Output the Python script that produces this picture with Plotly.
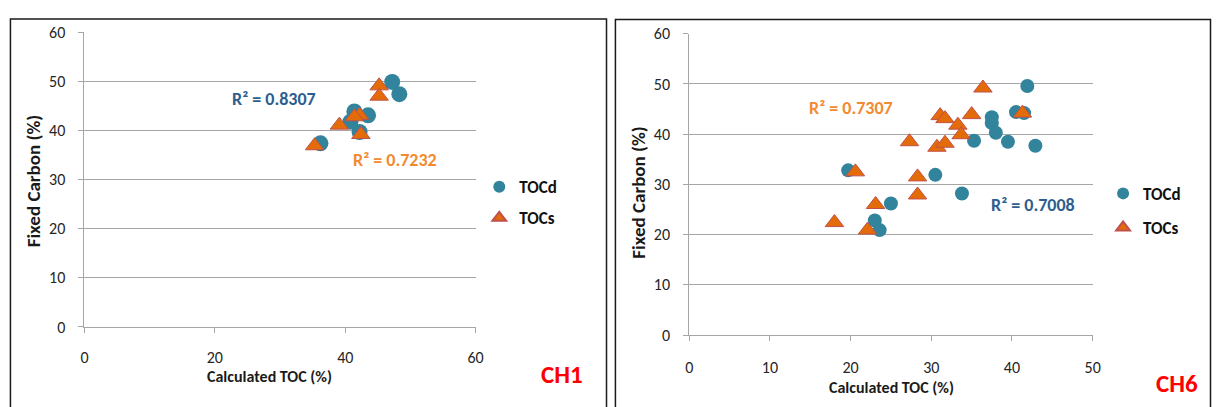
import plotly.graph_objects as go

W, H = 1219, 407

# ---------------- data ----------------
ch1_tocd_x = [47.2, 48.3, 41.4, 43.5, 40.8, 42.2, 36.2]
ch1_tocd_y = [49.9, 47.4, 43.9, 43.1, 41.8, 39.7, 37.4]
ch1_tocs_x = [45.2, 45.2, 42.2, 41.4, 39.1, 42.4, 35.3]
ch1_tocs_y = [49.1, 47.0, 43.1, 42.8, 41.1, 39.2, 36.9]

ch6_tocd_x = [41.9, 40.5, 41.5, 37.5, 37.5, 38.0, 35.3, 39.5, 42.9, 19.7, 30.5, 33.8, 25.0, 23.0, 23.6]
ch6_tocd_y = [49.6, 44.4, 44.2, 43.4, 42.2, 40.3, 38.7, 38.5, 37.7, 32.8, 31.9, 28.2, 26.2, 22.8, 20.9]
ch6_tocs_x = [36.4, 31.1, 31.7, 35.0, 33.3, 33.7, 41.3, 27.3, 30.7, 31.7, 20.6, 28.3, 28.3, 23.1, 18.0, 22.1]
ch6_tocs_y = [49.2, 43.7, 43.1, 43.9, 41.8, 39.9, 44.2, 38.5, 37.4, 38.2, 32.5, 31.5, 27.9, 26.0, 22.4, 20.9]

series_names = ["TOCd", "TOCs"]
r2_ch1 = ["R\u00b2 = 0.8307", "R\u00b2 = 0.7232"]
r2_ch6 = ["R\u00b2 = 0.7307", "R\u00b2 = 0.7008"]
x_title = "Calculated TOC (%)"
y_title = "Fixed Carbon (%)"
panel_labels = ["CH1", "CH6"]

# ---------------- style ----------------
FONT = "Carlito, Calibri, 'Liberation Sans Narrow', 'Open Sans', sans-serif"
TEAL = "#31849B"
ORANGE = "#E36C09"
EDGE = "#C0504D"
BLUE_TXT = "#2E5E8E"
ORANGE_TXT = "#F28A30"
GRID = "#A6A6A6"


def px(x):
    return x / W


def py(y):
    return 1 - y / H


fig = go.Figure()

# CH1
fig.add_trace(go.Scatter(x=ch1_tocd_x, y=ch1_tocd_y, mode="markers", name=series_names[0],
                         marker=dict(symbol="circle", size=16, color=TEAL, line=dict(width=0)),
                         xaxis="x", yaxis="y", legend="legend", legendgroup="a"))
fig.add_trace(go.Scatter(x=ch1_tocs_x, y=ch1_tocs_y, mode="markers", name=series_names[1],
                         marker=dict(symbol="triangle-up", size=16, color=ORANGE, line=dict(width=1, color=EDGE)),
                         xaxis="x", yaxis="y", legend="legend", legendgroup="b"))
# CH6
fig.add_trace(go.Scatter(x=ch6_tocd_x, y=ch6_tocd_y, mode="markers", name=series_names[0],
                         marker=dict(symbol="circle", size=14, color=TEAL, line=dict(width=0)),
                         xaxis="x2", yaxis="y2", legend="legend2", legendgroup="c"))
fig.add_trace(go.Scatter(x=ch6_tocs_x, y=ch6_tocs_y, mode="markers", name=series_names[1],
                         marker=dict(symbol="triangle-up", size=16, color=ORANGE, line=dict(width=1, color=EDGE)),
                         xaxis="x2", yaxis="y2", legend="legend2", legendgroup="d"))

axis_common = dict(showline=True, linecolor=GRID, linewidth=1, ticks="outside", ticklen=5,
                   tickcolor=GRID, tickfont=dict(family=FONT, size=16, color="#262626"),
                   zeroline=False, fixedrange=True)

legend_font = dict(family=FONT, size=17, color="#111111", weight="bold")

fig.update_layout(
    width=W, height=H, margin=dict(l=0, r=0, t=0, b=0),
    paper_bgcolor="white", plot_bgcolor="white",
    font=dict(family=FONT),
    xaxis=dict(domain=[px(81.3), px(476.3)], range=[0, 60], dtick=20, showgrid=False,
               anchor="y", ticklabelstandoff=11, **axis_common),
    yaxis=dict(domain=[py(333.5), py(24.5)], range=[0, 60], dtick=10, showgrid=True,
               gridcolor=GRID, gridwidth=1, anchor="x", ticklabelstandoff=10, **axis_common),
    xaxis2=dict(domain=[px(692), px(1099.5)], range=[0, 50], dtick=10, showgrid=False,
                anchor="y2", ticklabelstandoff=13, **axis_common),
    yaxis2=dict(domain=[py(342), py(26)], range=[0, 60], dtick=10, showgrid=True,
                gridcolor=GRID, gridwidth=1, anchor="x2", ticklabelstandoff=10, **axis_common),
    legend=dict(x=px(480), y=py(168), xanchor="left", yanchor="top", traceorder="grouped",
                tracegroupgap=6, itemsizing="constant", bgcolor="rgba(0,0,0,0)",
                font=legend_font),
    legend2=dict(x=px(1110), y=py(175), xanchor="left", yanchor="top", traceorder="grouped",
                 tracegroupgap=9, itemsizing="constant", bgcolor="rgba(0,0,0,0)",
                 font=legend_font),
    showlegend=True,
)

# panel borders
fig.add_shape(type="rect", xref="paper", yref="paper", x0=px(6.5), x1=px(608.5), y0=-0.05, y1=py(10.5),
              line=dict(color="#1a1a1a", width=1.5), layer="below")
fig.add_shape(type="rect", xref="paper", yref="paper", x0=px(617.5), x1=px(1218.5), y0=-0.05, y1=py(11),
              line=dict(color="#1a1a1a", width=1.5), layer="below")

# axis titles
for txt, xx, yy, ang, sz in [
    (y_title, 30, 180, -90, 19),
    (y_title, 640, 192, -90, 19),
    (x_title, 268, 386, 0, 16),
    (x_title, 896, 397, 0, 16),
]:
    fig.add_annotation(text=f"<b>{txt}</b>", x=px(xx), y=py(yy), textangle=ang,
                       xref="paper", yref="paper", showarrow=False,
                       xanchor="center", yanchor="middle",
                       font=dict(family=FONT, size=sz, color="#1a1a1a"))

# panel labels
for txt, xx, yy in [(panel_labels[0], 564, 383), (panel_labels[1], 1185, 393)]:
    fig.add_annotation(text=f"<b>{txt}</b>", x=px(xx), y=py(yy), xref="paper", yref="paper",
                       showarrow=False, xanchor="center", yanchor="middle",
                       font=dict(family=FONT, size=25, color="#FF0000"))

# R² labels
r2 = [
    (r2_ch1[0], 273, 94, BLUE_TXT),
    (r2_ch1[1], 395, 158, ORANGE_TXT),
    (r2_ch6[0], 855, 104, ORANGE_TXT),
    (r2_ch6[1], 1039, 206, BLUE_TXT),
]
for txt, xx, yy, col in r2:
    fig.add_annotation(text=f"<b>{txt}</b>", x=px(xx), y=py(yy), xref="paper", yref="paper",
                       showarrow=False, xanchor="center", yanchor="middle",
                       font=dict(family=FONT, size=18, color=col))

fig.write_html("out.html")
